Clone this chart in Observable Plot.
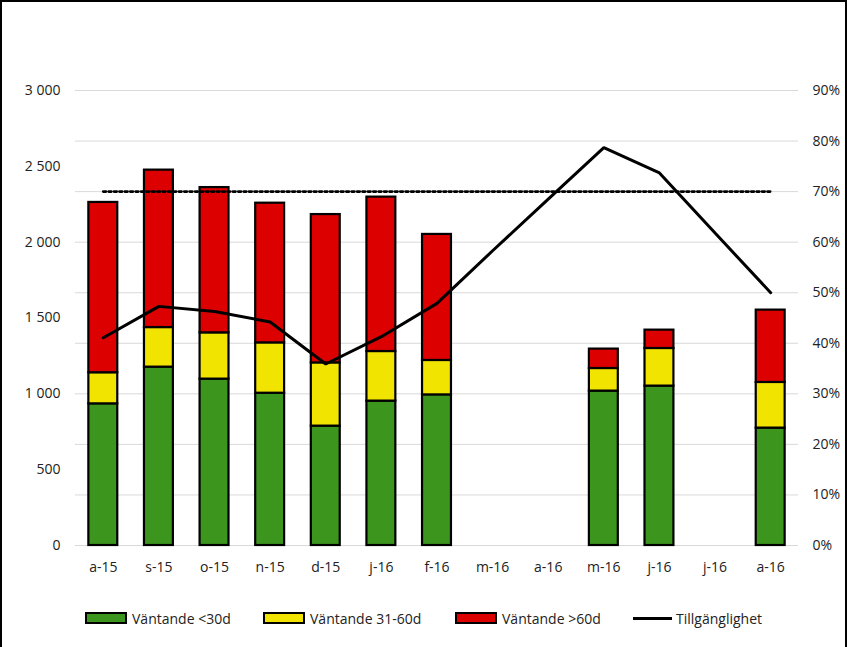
<!DOCTYPE html>
<html><head><meta charset="utf-8">
<script src="https://cdn.jsdelivr.net/npm/d3@7"></script>
<script src="https://cdn.jsdelivr.net/npm/@observablehq/plot@0.6"></script>
<style>
body{margin:0;background:#fff;font-family:"Open Sans",sans-serif;}
#wrap{position:relative;width:847px;height:647px;box-sizing:border-box;border:2px solid #000;border-bottom:none;overflow:hidden;background:#fff}
#legend{position:absolute;left:0;top:604px;width:843px;height:24px;font-size:14px;color:#222}
.item{position:absolute;top:0;display:flex;align-items:center;height:24px;white-space:nowrap}
.sw{width:38px;height:8px;border:2px solid #000;margin-right:5px}
.ln{width:39px;height:3px;background:#000;margin-right:4px}
</style></head><body>
<div id="wrap"><div id="chart"></div><div id="legend"></div></div>
<script>
const months = ["2015-08","2015-09","2015-10","2015-11","2015-12","2016-01","2016-02","2016-03","2016-04","2016-05","2016-06","2016-07","2016-08"];
const labels = ["a-15","s-15","o-15","n-15","d-15","j-16","f-16","m-16","a-16","m-16","j-16","j-16","a-16"];
const seriesNames = ["Väntande <30d","Väntande 31-60d","Väntande >60d"];
const under30 = [934,1176,1097,1004,787,952,993,null,null,1018,1051,null,774];
const d31to60 = [205,261,305,332,417,327,227,null,null,149,248,null,301];
const over60  = [1123,1038,958,921,978,1018,831,null,null,128,121,null,477];
const availability = [0.411,0.473,0.463,0.442,0.359,0.413,0.479,0.583,0.685,0.787,0.737,0.618,0.500];
const lineName = "Tillgänglighet";
const target = 0.70;
const leftTicks = [0,500,1000,1500,2000,2500,3000];
const rightTicks = [0,0.1,0.2,0.3,0.4,0.5,0.6,0.7,0.8,0.9];
const leftMax = 3000, rightMax = 0.9;
const colors = ["#3C961E","#F0E400","#DC0000"];

const toLeft = p => p * leftMax / rightMax;
const seriesVals = [under30, d31to60, over60];
const bars = [];
seriesVals.forEach((arr, s) => arr.forEach((v, i) => { if (v != null) bars.push({month: months[i], series: seriesNames[s], value: v}); }));
const lineData = months.map((m, i) => ({month: m, p: availability[i]}));
const targetData = [months[0], months[months.length - 1]];
const fmtLeft = d => d >= 1000 ? `${Math.floor(d/1000)} ${String(d%1000).padStart(3,"0")}` : String(d);

const chart = Plot.plot({
  width: 843, height: 588,
  marginLeft: 73, marginRight: 47, marginTop: 88, marginBottom: 45,
  style: {fontFamily: "Open Sans", fontSize: "14px", color: "#222", background: "#fff"},
  x: {type: "band", domain: months, paddingInner: 0.48, paddingOuter: 0.24, round: false, axis: null},
  y: {domain: [0, leftMax], axis: null},
  color: {domain: seriesNames, range: colors},
  marks: [
    Plot.gridY(rightTicks.map(toLeft), {stroke: "#d9d9d9", strokeOpacity: 1, strokeWidth: 1}),
    Plot.axisY(leftTicks, {anchor: "left", tickSize: 0, tickPadding: 15, tickFormat: fmtLeft, label: null}),
    Plot.axisY(rightTicks.map(toLeft), {anchor: "right", tickSize: 0, tickPadding: 14, tickFormat: d => Math.round(d / leftMax * rightMax * 100) + "%", label: null}),
    Plot.axisX({tickSize: 0, tickPadding: 17, tickFormat: d => labels[months.indexOf(d)], label: null}),
    Plot.barY(bars, {x: "month", y: "value", fill: "series", stroke: "#000", strokeWidth: 2.2}),
    Plot.line(targetData, {x: d => d, y: () => toLeft(target), stroke: "#000", strokeWidth: 2.8, strokeDasharray: "2.6,2.8"}),
    Plot.line(lineData, {x: "month", y: d => toLeft(d.p), stroke: "#000", strokeWidth: 3, strokeLinejoin: "miter"})
  ]
});
document.getElementById("chart").appendChild(chart);

const legend = document.getElementById("legend");
const lefts = [83, 261, 453, 631];
seriesNames.forEach((n, i) => {
  const it = document.createElement("div");
  it.className = "item"; it.style.left = lefts[i] + "px";
  it.innerHTML = `<span class="sw" style="background:${colors[i]}"></span><span>${n}</span>`;
  legend.appendChild(it);
});
const li = document.createElement("div");
li.className = "item"; li.style.left = lefts[3] + "px";
li.innerHTML = `<span class="ln"></span><span>${lineName}</span>`;
legend.appendChild(li);
</script>
</body></html>
